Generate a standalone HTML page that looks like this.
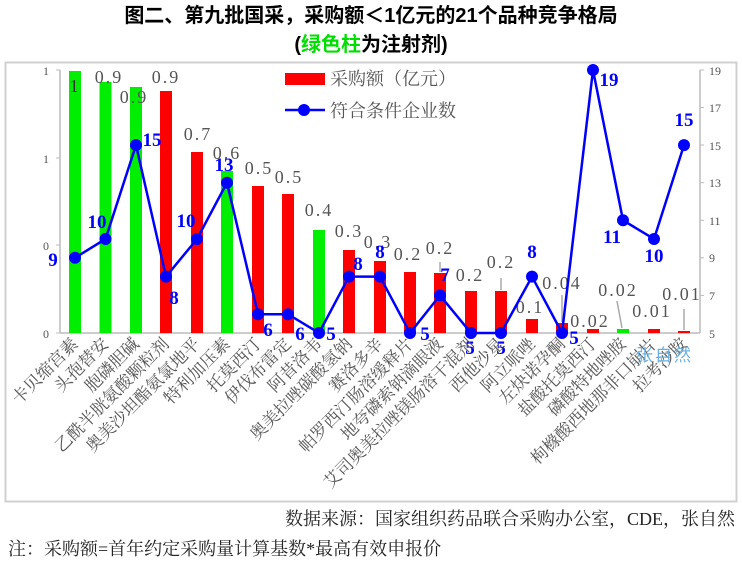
<!DOCTYPE html>
<html><head><meta charset="utf-8"><style>
body{margin:0;background:#fff;width:742px;height:564px;overflow:hidden}
svg{display:block}
.t{font-family:"Liberation Sans","Noto Sans CJK SC",sans-serif;font-weight:bold;font-size:20px;fill:#000}
.g{font-family:"Liberation Serif","Noto Serif CJK SC",serif;font-size:18px;fill:#555;text-anchor:middle;letter-spacing:2px}
.b{font-family:"Liberation Serif",serif;font-weight:bold;font-size:19px;fill:#0000ff;text-anchor:middle}
.ax{font-family:"Liberation Serif",serif;font-size:12px;fill:#555}
.xl{font-family:"Liberation Serif","Noto Serif CJK SC",serif;font-size:17px;fill:#555;text-anchor:end}
.ft{font-family:"Liberation Serif","Noto Serif CJK SC",serif;font-size:18px;fill:#222}
</style></head><body>
<svg width="742" height="564" viewBox="0 0 742 564">
<text class="t" x="371" y="22" text-anchor="middle">图二、第九批国采，采购额＜1亿元的21个品种竞争格局</text>
<text class="t" x="371" y="51" text-anchor="middle">(<tspan fill="#00dd00">绿色柱</tspan>为注射剂)</text>
<rect x="5.5" y="62.5" width="731" height="439" fill="none" stroke="#d0d0d0" stroke-width="2"/>
<line x1="60" y1="70" x2="60" y2="333" stroke="#bbb" stroke-width="1.5"/>
<line x1="60" y1="333" x2="700" y2="333" stroke="#ccc" stroke-width="2"/>
<line x1="700" y1="70" x2="700" y2="333" stroke="#bbb" stroke-width="1.5"/>
<g stroke="#bbb"><line x1="56" y1="70" x2="60" y2="70"/><line x1="56" y1="158" x2="60" y2="158"/><line x1="56" y1="245" x2="60" y2="245"/><line x1="56" y1="333" x2="60" y2="333"/>
<line x1="700" y1="70" x2="704" y2="70"/><line x1="700" y1="107.6" x2="704" y2="107.6"/><line x1="700" y1="145" x2="704" y2="145"/><line x1="700" y1="182.7" x2="704" y2="182.7"/><line x1="700" y1="220.3" x2="704" y2="220.3"/><line x1="700" y1="257.8" x2="704" y2="257.8"/><line x1="700" y1="295.4" x2="704" y2="295.4"/></g>
<g class="ax" text-anchor="end"><text x="49" y="75">1</text><text x="49" y="163">1</text><text x="49" y="250">0</text><text x="49" y="338">0</text></g>
<g class="ax"><text x="709" y="75">19</text><text x="709" y="112">17</text><text x="709" y="150">15</text><text x="709" y="187">13</text><text x="709" y="225">11</text><text x="709" y="262">9</text><text x="709" y="300">7</text><text x="709" y="338">5</text></g>
<g>
<rect x="69" y="71" width="12" height="262" fill="#00ee00"/>
<rect x="99.5" y="82" width="12" height="251" fill="#00ee00"/>
<rect x="130" y="87" width="12" height="246" fill="#00ee00"/>
<rect x="160" y="91" width="12" height="242" fill="#ff0000"/>
<rect x="191" y="152" width="12" height="181" fill="#ff0000"/>
<rect x="221" y="171" width="12" height="162" fill="#00ee00"/>
<rect x="252" y="186" width="12" height="147" fill="#ff0000"/>
<rect x="282" y="194" width="12" height="139" fill="#ff0000"/>
<rect x="313" y="230" width="12" height="103" fill="#00ee00"/>
<rect x="343" y="250" width="12" height="83" fill="#ff0000"/>
<rect x="374" y="261" width="12" height="72" fill="#ff0000"/>
<rect x="404" y="272" width="12" height="61" fill="#ff0000"/>
<rect x="434" y="273" width="12" height="60" fill="#ff0000"/>
<rect x="465" y="291" width="12" height="42" fill="#ff0000"/>
<rect x="495" y="291" width="12" height="42" fill="#ff0000"/>
<rect x="526" y="319" width="12" height="14" fill="#ff0000"/>
<rect x="556" y="323" width="12" height="10" fill="#ff0000"/>
<rect x="587" y="329" width="12" height="4" fill="#ff0000"/>
<rect x="617" y="329" width="12" height="4" fill="#00ee00"/>
<rect x="648" y="329" width="12" height="4" fill="#ff0000"/>
<rect x="678" y="331" width="12" height="2" fill="#ff0000"/>
</g>
<g stroke="#aaa" stroke-width="1.5"><line x1="440" y1="262" x2="440" y2="272"/><line x1="501" y1="278" x2="501" y2="290"/><line x1="562" y1="295" x2="562" y2="322"/><line x1="617" y1="301" x2="622" y2="328"/><line x1="684" y1="309" x2="684" y2="330"/></g>
<g class="g">
<text x="75" y="92" fill="#333">1</text><text x="109" y="83">0.9</text><text x="134" y="103">0.9</text><text x="166" y="83">0.9</text>
<text x="198" y="140">0.7</text><text x="227" y="159">0.6</text><text x="259" y="174">0.5</text><text x="289" y="183">0.5</text>
<text x="319" y="216">0.4</text><text x="349" y="237">0.3</text><text x="378" y="248">0.3</text><text x="408" y="260">0.2</text>
<text x="440" y="254">0.2</text><text x="470" y="281">0.2</text><text x="501" y="268">0.2</text><text x="530" y="313">0.1</text>
<text x="562" y="289">0.04</text><text x="590" y="327">0.02</text><text x="618" y="296">0.02</text><text x="652" y="317">0.01</text><text x="682" y="300">0.01</text>
</g>
<polyline fill="none" stroke="#0000ff" stroke-width="2.5" points="75,257.8 105.5,239 136,145.1 166,276.6 197,239 227,182.7 258,314.2 288,314.2 319,333 349,276.6 380,276.6 410,333 440,295.4 471,333 501,333 532,276.6 562,333 593,70 623,220.3 654,239 684,145.1"/>
<g fill="#0000ff">
<circle cx="75" cy="257.8" r="6"/><circle cx="105.5" cy="239" r="6"/><circle cx="136" cy="145.1" r="6"/><circle cx="166" cy="276.6" r="6"/><circle cx="197" cy="239" r="6"/><circle cx="227" cy="182.7" r="6"/><circle cx="258" cy="314.2" r="6"/><circle cx="288" cy="314.2" r="6"/><circle cx="319" cy="333" r="6"/><circle cx="349" cy="276.6" r="6"/><circle cx="380" cy="276.6" r="6"/><circle cx="410" cy="333" r="6"/><circle cx="440" cy="295.4" r="6"/><circle cx="471" cy="333" r="6"/><circle cx="501" cy="333" r="6"/><circle cx="532" cy="276.6" r="6"/><circle cx="562" cy="333" r="6"/><circle cx="593" cy="70" r="6"/><circle cx="623" cy="220.3" r="6"/><circle cx="654" cy="239" r="6"/><circle cx="684" cy="145.1" r="6"/>
</g>
<g class="b">
<text x="53" y="266">9</text><text x="97" y="228">10</text><text x="152" y="146">15</text><text x="174" y="304">8</text><text x="186" y="227">10</text><text x="224" y="171">13</text>
<text x="268" y="336">6</text><text x="300" y="340">6</text><text x="331" y="340">5</text><text x="358" y="270">8</text><text x="380" y="258">8</text>
<text x="425" y="340">5</text><text x="445" y="281">7</text><text x="470" y="354">5</text><text x="501" y="354">5</text><text x="532" y="258">8</text><text x="574" y="344">5</text>
<text x="609" y="86">19</text><text x="612" y="243">11</text><text x="654" y="262">10</text><text x="684" y="126">15</text>
</g>
<rect x="285" y="73" width="40" height="12" fill="#ff0000"/>
<text class="ft" x="330" y="85" font-size="19" style="fill:#555">采购额（亿元）</text>
<line x1="285" y1="110" x2="325" y2="110" stroke="#0000ff" stroke-width="2.5"/><circle cx="304" cy="110" r="6" fill="#0000ff"/>
<text class="ft" x="330" y="117" font-size="19" style="fill:#555">符合条件企业数</text>
<g class="xl">
<text transform="translate(79,345) rotate(-45)">卡贝缩宫素</text>
<text transform="translate(109.5,345) rotate(-45)">头孢替安</text>
<text transform="translate(140,345) rotate(-45)">胞磷胆碱</text>
<text transform="translate(170,345) rotate(-45)">乙酰半胱氨酸颗粒剂</text>
<text transform="translate(201,345) rotate(-45)">奥美沙坦酯氨氯地平</text>
<text transform="translate(231,345) rotate(-45)">特利加压素</text>
<text transform="translate(262,345) rotate(-45)">托莫西汀</text>
<text transform="translate(292,345) rotate(-45)">伊伐布雷定</text>
<text transform="translate(323,345) rotate(-45)">阿昔洛韦</text>
<text transform="translate(353,345) rotate(-45)">奥美拉唑碳酸氢钠</text>
<text transform="translate(384,345) rotate(-45)">赛洛多辛</text>
<text transform="translate(414,345) rotate(-45)">帕罗西汀肠溶缓释片</text>
<text transform="translate(444,345) rotate(-45)">地夸磷索钠滴眼液</text>
<text transform="translate(475,345) rotate(-45)">艾司奥美拉唑镁肠溶干混剂</text>
<text transform="translate(505,345) rotate(-45)">西他沙星</text>
<text transform="translate(536,345) rotate(-45)">阿立哌唑</text>
<text transform="translate(566,345) rotate(-45)">左炔诺孕酮</text>
<text transform="translate(597,345) rotate(-45)">盐酸托莫西汀</text>
<text transform="translate(627,345) rotate(-45)">磷酸特地唑胺</text>
<text transform="translate(658,345) rotate(-45)">枸橼酸西地那非口崩片</text>
<text transform="translate(688,345) rotate(-45)">拉考沙胺</text>
</g>
<text x="636" y="361" font-family="'Noto Sans CJK SC',sans-serif" font-size="17" fill="#6ab0e0" letter-spacing="2">张自然</text>
<text class="ft" x="735" y="525" text-anchor="end">数据来源：国家组织药品联合采购办公室，CDE，张自然</text>
<text class="ft" x="8" y="555">注：采购额=首年约定采购量计算基数*最高有效申报价</text>
</svg>
</body></html>
